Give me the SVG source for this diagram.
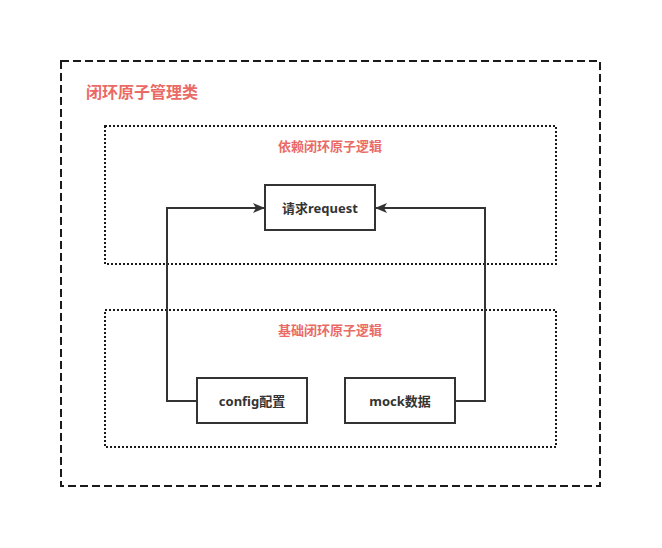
<svg xmlns="http://www.w3.org/2000/svg" width="662" height="548" viewBox="0 0 662 548">
<defs>
<style>
.outer{fill:none;stroke:#1a1a1a;stroke-width:2;stroke-dasharray:8 4}
.dot{fill:none;stroke:#1a1a1a;stroke-width:2;stroke-dasharray:2 2}
.box{fill:#ffffff;stroke:#333333;stroke-width:2}
.lbl{font-family:"Noto Sans CJK SC","Noto Sans",sans-serif;font-weight:bold;fill:#ea6b66}
.txt{font-family:"Noto Sans","Noto Sans CJK SC",sans-serif;font-weight:bold;font-size:13px;fill:#333333;text-anchor:middle}
.edge{fill:none;stroke:#333333;stroke-width:2}
</style>
<marker id="arr" markerWidth="12" markerHeight="10" refX="11" refY="5" orient="auto" markerUnits="userSpaceOnUse">
<path d="M0,0 L12,5 L0,10 L3,5 Z" fill="#333333"/>
</marker>
</defs>
<rect width="662" height="548" fill="#ffffff"/>
<g id="outer">
<rect class="outer" x="61" y="61" width="539" height="425"/>
<text class="lbl" x="86" y="98" font-size="16">闭环原子管理类</text>
</g>
<g id="group-dep">
<rect class="dot" x="105" y="126" width="451" height="138"/>
<text class="lbl" x="330" y="151" font-size="13" text-anchor="middle">依赖闭环原子逻辑</text>
</g>
<g id="group-base">
<rect class="dot" x="105" y="310" width="451" height="137"/>
<text class="lbl" x="330" y="335" font-size="13" text-anchor="middle">基础闭环原子逻辑</text>
</g>
<g id="connectors">
<path class="edge" d="M197,401 L167,401 L167,208 L264,208" marker-end="url(#arr)"/>
<path class="edge" d="M455,401 L485,401 L485,208 L376,208" marker-end="url(#arr)"/>
</g>
<g id="node-request">
<rect class="box" x="265" y="185" width="110" height="45"/>
<text class="txt" x="320" y="212.5">请求request</text>
</g>
<g id="node-config">
<rect class="box" x="197" y="378" width="110" height="45"/>
<text class="txt" x="252" y="405.5">config配置</text>
</g>
<g id="node-mock">
<rect class="box" x="345" y="378" width="110" height="45"/>
<text class="txt" x="400" y="405.5">mock数据</text>
</g>
</svg>
